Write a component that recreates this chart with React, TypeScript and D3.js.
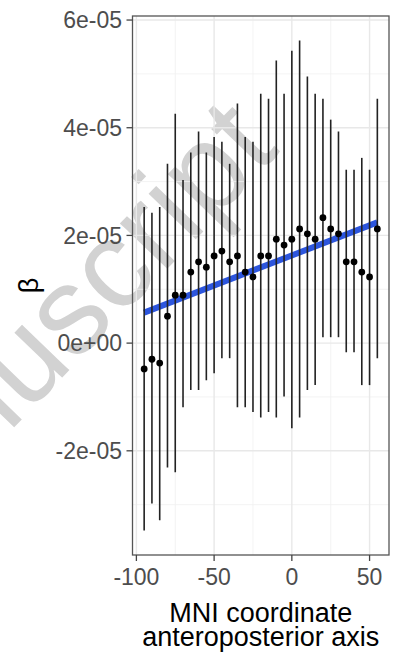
import React, { useEffect, useRef } from "react";
import * as d3 from "d3";

// MNI y coordinate (anteroposterior), one estimate per slab
const coords = [-95, -90, -85, -80, -75, -70, -65, -60, -55, -50, -45, -40, -35, -30, -25, -20,
  -15, -10, -5, 0, 5, 10, 15, 20, 25, 30, 35, 40, 45, 50, 55];

// beta estimates and interval bounds, in units of 1e-5
const beta = [-0.48, -0.30, -0.37, 0.50, 0.89, 0.89, 1.32, 1.51, 1.41, 1.62, 1.71, 1.51, 1.62, 1.32, 1.23, 1.62,
  1.62, 1.93, 1.82, 1.93, 2.12, 2.03, 1.93, 2.33, 2.12, 2.03, 1.51, 1.51, 1.32, 1.23, 2.12];
const upper = [2.53, 2.42, 2.53, 3.33, 4.26, 3.03, 3.54, 3.93, 3.54, 3.83, 3.74, 3.33, 4.45, 3.83, 3.74, 4.63,
  4.54, 5.25, 4.63, 5.43, 5.62, 4.95, 4.63, 4.54, 4.15, 3.93, 3.22, 3.22, 3.44, 3.22, 4.54];
const lower = [-3.48, -2.98, -3.29, -2.31, -2.40, -1.19, -0.87, -0.87, -0.69, -0.56, -0.28, -0.28, -1.19, -1.19, -1.28, -1.38,
  -1.28, -1.38, -0.99, -1.58, -1.38, -0.87, -0.78, 0.11, 0.11, 0.11, -0.17, -0.17, -0.78, -0.78, -0.28];

const xTicks = [-100, -50, 0, 50];
const xMinor = [-75, -25, 25];
const yTicks = [-2e-5, 0, 2e-5, 4e-5, 6e-5];
const yTickLabels = ["-2e-05", "0e+00", "2e-05", "4e-05", "6e-05"];
const yMinor = [-3e-5, -1e-5, 1e-5, 3e-5, 5e-5];

const font = "'Liberation Sans', Arial, sans-serif";

export default function App() {
  const ref = useRef<SVGSVGElement>(null);

  useEffect(() => {
    const svg = d3.select(ref.current);
    svg.selectAll("*").remove();

    const margin = { left: 132.5, top: 16, right: 12, bottom: 101 };
    const width = 401, height = 656;
    const w = width - margin.left - margin.right;
    const h = height - margin.top - margin.bottom;

    const data = coords.map((x, i) => ({
      x,
      y: beta[i] * 1e-5,
      lo: lower[i] * 1e-5,
      hi: upper[i] * 1e-5,
    }));

    // ggplot style 5% expansion
    const xr = d3.extent(coords) as [number, number];
    const xPad = (xr[1] - xr[0]) * 0.05;
    const yMin = d3.min(data, d => d.lo)!;
    const yMax = d3.max(data, d => d.hi)!;
    const yPad = (yMax - yMin) * 0.05;

    const x = d3.scaleLinear().domain([xr[0] - xPad, xr[1] + xPad]).range([0, w]);
    const y = d3.scaleLinear().domain([yMin - yPad, yMax + yPad]).range([h, 0]);

    // watermark
    svg.append("text")
      .attr("transform", "translate(281,151) rotate(-46)")
      .attr("text-anchor", "end")
      .style("font-family", font)
      .style("font-size", "124px")
      .style("fill", "#d2d2d2")
      .text("Manuscript");

    const g = svg.append("g").attr("transform", `translate(${margin.left},${margin.top})`);

    // grid
    g.selectAll(".xminor").data(xMinor).enter().append("line")
      .attr("x1", d => x(d)).attr("x2", d => x(d)).attr("y1", 0).attr("y2", h)
      .attr("stroke", "#f0f0f0").attr("stroke-width", 0.8);
    g.selectAll(".yminor").data(yMinor).enter().append("line")
      .attr("y1", d => y(d)).attr("y2", d => y(d)).attr("x1", 0).attr("x2", w)
      .attr("stroke", "#f0f0f0").attr("stroke-width", 0.8);
    g.selectAll(".xmajor").data(xTicks).enter().append("line")
      .attr("x1", d => x(d)).attr("x2", d => x(d)).attr("y1", 0).attr("y2", h)
      .attr("stroke", "#e8e8e8").attr("stroke-width", 1.4);
    g.selectAll(".ymajor").data(yTicks).enter().append("line")
      .attr("y1", d => y(d)).attr("y2", d => y(d)).attr("x1", 0).attr("x2", w)
      .attr("stroke", "#e8e8e8").attr("stroke-width", 1.4);

    // linear fit (least squares)
    const mx = d3.mean(data, d => d.x)!;
    const my = d3.mean(data, d => d.y)!;
    const slope = d3.sum(data, d => (d.x - mx) * (d.y - my)) / d3.sum(data, d => (d.x - mx) ** 2);
    const fit = xr.map(v => ({ x: v, y: my + slope * (v - mx) }));
    g.append("path")
      .datum(fit)
      .attr("d", d3.line<{ x: number; y: number }>().x(d => x(d.x)).y(d => y(d.y)))
      .attr("fill", "none")
      .attr("stroke", "#2c55dd")
      .attr("stroke-width", 6);

    // intervals
    g.selectAll(".bar").data(data).enter().append("line")
      .attr("x1", d => x(d.x)).attr("x2", d => x(d.x))
      .attr("y1", d => y(d.lo)).attr("y2", d => y(d.hi))
      .attr("stroke", "#222").attr("stroke-width", 1.6);

    // points
    g.selectAll(".pt").data(data).enter().append("circle")
      .attr("cx", d => x(d.x)).attr("cy", d => y(d.y)).attr("r", 3.4)
      .attr("fill", "#000");

    // panel border
    g.append("rect").attr("width", w).attr("height", h)
      .attr("fill", "none").attr("stroke", "#555").attr("stroke-width", 1.3);

    // x axis
    const xa = g.append("g").attr("transform", `translate(0,${h})`);
    xa.selectAll("line").data(xTicks).enter().append("line")
      .attr("x1", d => x(d)).attr("x2", d => x(d)).attr("y1", 0).attr("y2", 6)
      .attr("stroke", "#444").attr("stroke-width", 1.3);
    xa.selectAll("text").data(xTicks).enter().append("text")
      .attr("x", d => x(d)).attr("y", 30)
      .attr("text-anchor", "middle")
      .style("font-family", font).style("font-size", "23px").style("fill", "#4d4d4d")
      .text(d => String(d));

    // y axis
    const ya = g.append("g");
    ya.selectAll("line").data(yTicks).enter().append("line")
      .attr("y1", d => y(d)).attr("y2", d => y(d)).attr("x1", -6).attr("x2", 0)
      .attr("stroke", "#444").attr("stroke-width", 1.3);
    ya.selectAll("text").data(yTicks).enter().append("text")
      .attr("x", -10.5).attr("y", d => y(d)).attr("dy", "0.36em")
      .attr("text-anchor", "end")
      .style("font-family", font).style("font-size", "23px").style("fill", "#4d4d4d")
      .text((d, i) => yTickLabels[i]);

    // axis titles
    const title = svg.append("text")
      .attr("text-anchor", "middle")
      .style("font-family", font).style("font-size", "27px").style("fill", "#000");
    title.append("tspan").attr("x", margin.left + w / 2).attr("y", 622).text("MNI coordinate");
    title.append("tspan").attr("x", margin.left + w / 2).attr("y", 646).text("anteroposterior axis");

    svg.append("text")
      .attr("transform", `translate(38,${margin.top + h / 2}) rotate(-90)`)
      .attr("text-anchor", "middle")
      .style("font-family", font).style("font-size", "27px").style("fill", "#000")
      .text("β");
  }, []);

  return (
    <svg
      ref={ref}
      width={401}
      height={656}
      style={{ position: "absolute", left: 0, top: 0, background: "#fff" }}
    />
  );
}
